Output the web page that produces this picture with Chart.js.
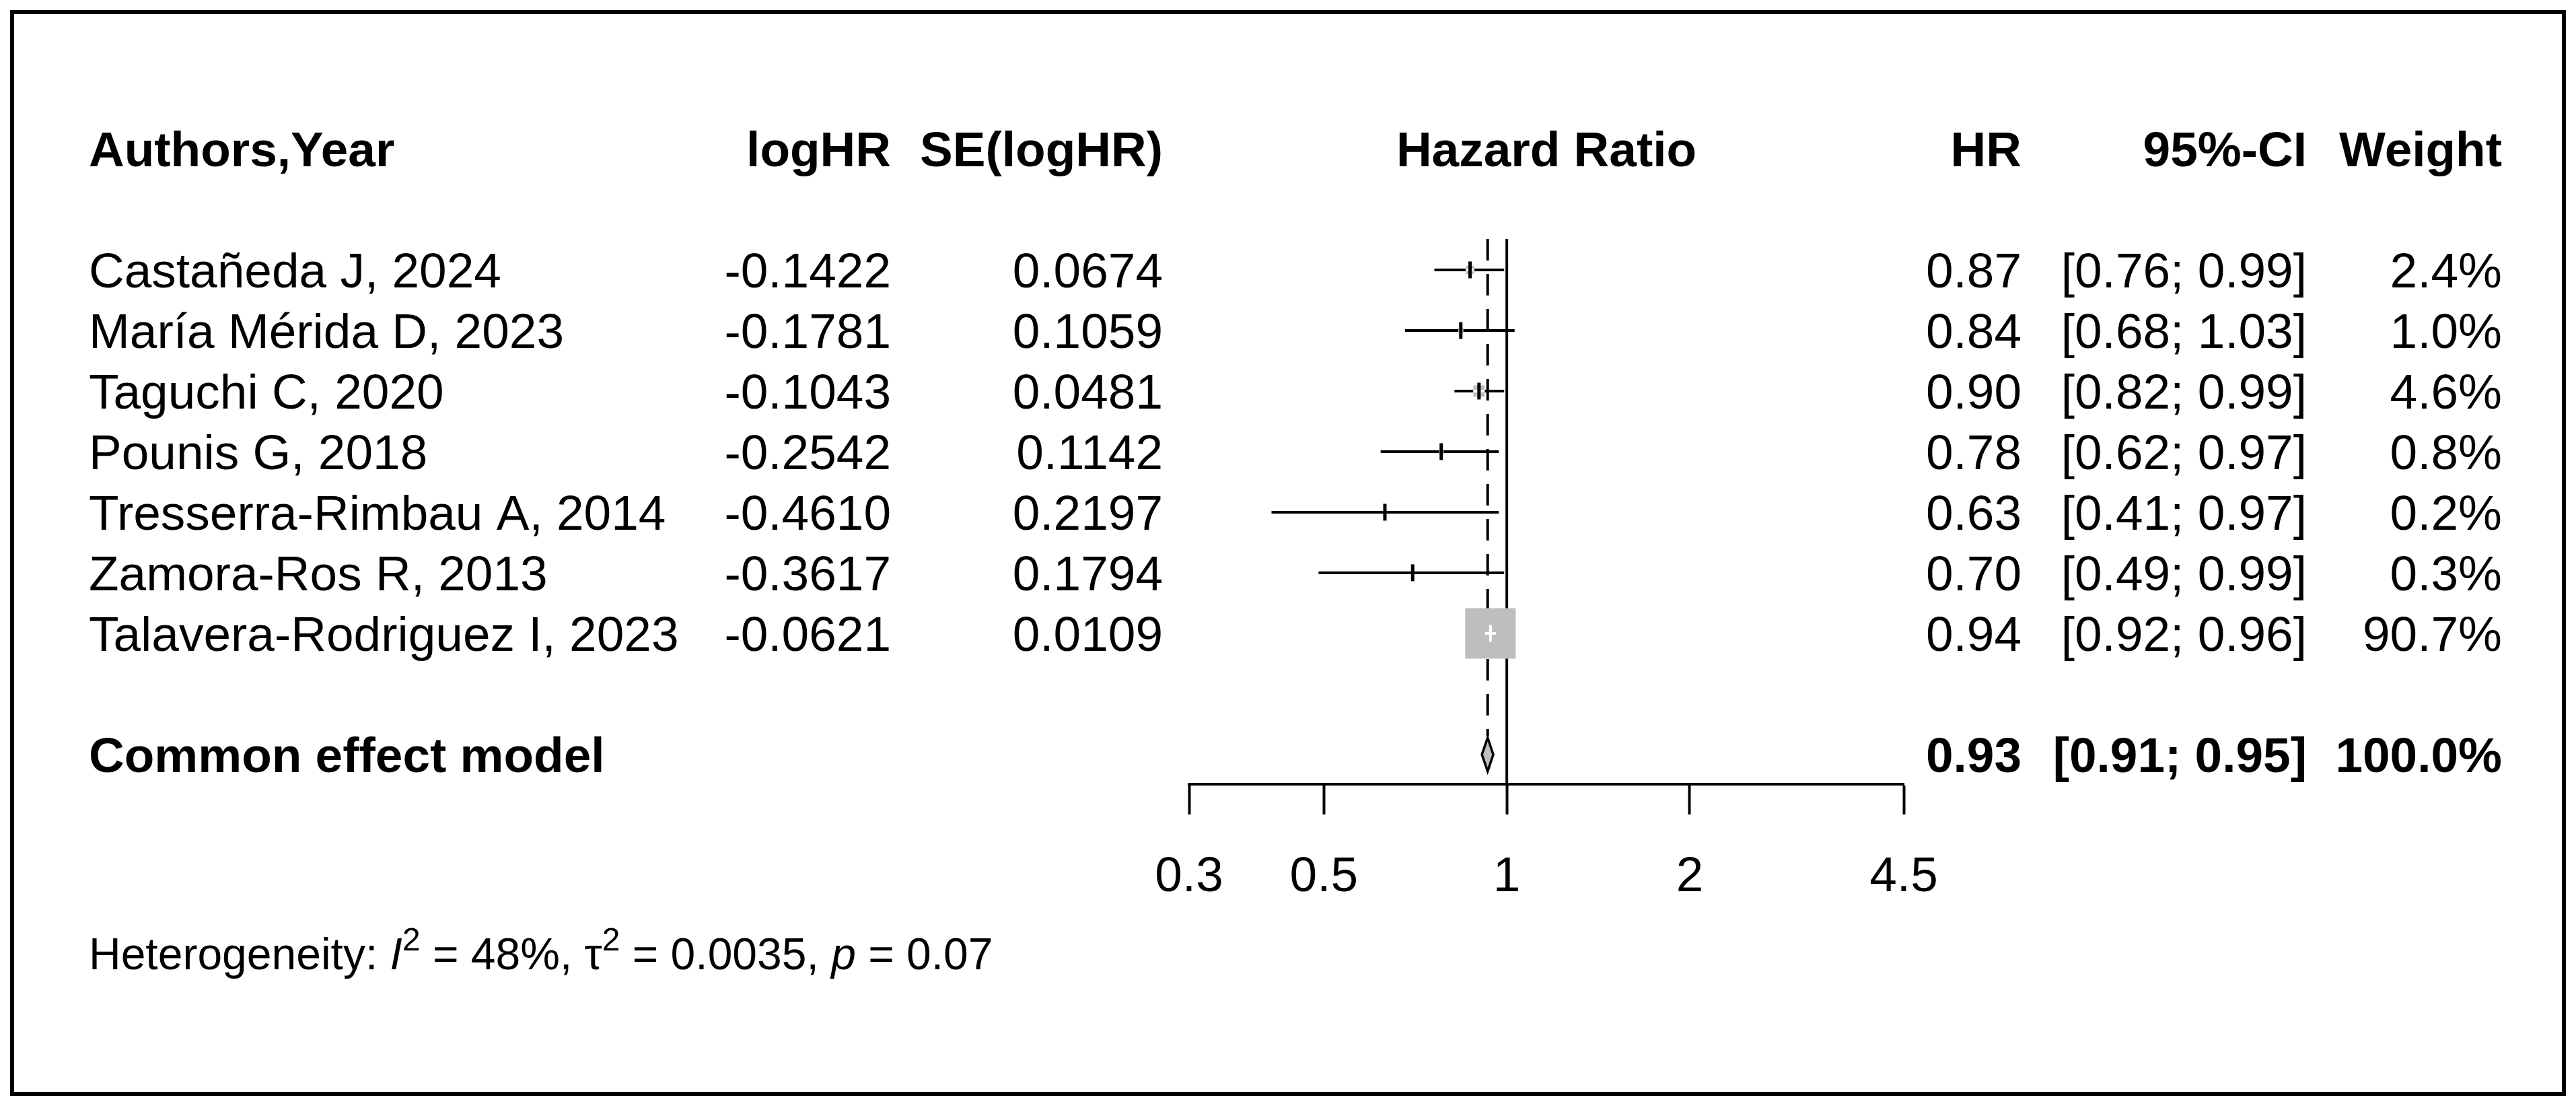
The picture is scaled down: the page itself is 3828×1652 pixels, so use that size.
<!DOCTYPE html>
<html>
<head>
<meta charset="utf-8">
<title>Forest plot – Hazard Ratio</title>
<script src="https://cdn.jsdelivr.net/npm/chart.js@4/dist/chart.umd.min.js"></script>
<style>
  html, body { margin: 0; padding: 0; background: #ffffff; }
  #wrap { width: 3828px; height: 1652px; position: relative; }
</style>
</head>
<body>
<div id="wrap"><canvas id="c"></canvas></div>
<script>
// ---------------- DATA ----------------
const studies = [
  'Castañeda J, 2024',
  'María Mérida D, 2023',
  'Taguchi C, 2020',
  'Pounis G, 2018',
  'Tresserra-Rimbau A, 2014',
  'Zamora-Ros R, 2013',
  'Talavera-Rodriguez I, 2023'
];
const logHR   = [-0.1422, -0.1781, -0.1043, -0.2542, -0.4610, -0.3617, -0.0621];
const seLogHR = [0.0674, 0.1059, 0.0481, 0.1142, 0.2197, 0.1794, 0.0109];
const hr      = [0.87, 0.84, 0.90, 0.78, 0.63, 0.70, 0.94];
const ciLow   = [0.76, 0.68, 0.82, 0.62, 0.41, 0.49, 0.92];
const ciHigh  = [0.99, 1.03, 0.99, 0.97, 0.97, 0.99, 0.96];
const weights = [2.4, 1.0, 4.6, 0.8, 0.2, 0.3, 90.7];

const pooledLabel  = 'Common effect model';
const pooledHR     = 0.93;
const pooledLow    = 0.91;
const pooledHigh   = 0.95;
const pooledWeight = 100.0;

const headers = ['Authors,Year', 'logHR', 'SE(logHR)', 'Hazard Ratio', 'HR', '95%-CI', 'Weight'];
const tickValues = [0.3, 0.5, 1, 2, 4.5];
const tickLabels = ['0.3', '0.5', '1', '2', '4.5'];
const hetI2 = '48%';
const hetTau2 = '0.0035';
const hetP = '0.07';

// ---------------- LAYOUT / STYLE ----------------
const FONT = '"Liberation Sans", Arial, Helvetica, sans-serif';
const FS = 73;            // main font size
const FS_HET = 66;        // heterogeneity line
const GRAY = '#bebebe';
const BOX_MAX = 75;       // side of the largest square (px)
const ROW_HEADER = -2, ROW_POOLED = 8, ROW_HET = 11.28;
const Y_MIN = -1, Y_MAX = 8.49;
const AXIS_H = 200;

const COL_STUDY_X = 132;
const COL_LOGHR_R = 1324;
const COL_SE_R = 1728;
const COL_HR_R = 3004;
const COL_CI_R = 3428;
const COL_W_R = 3718;

const maxW = Math.max(...weights);
const boxSide = weights.map(w => BOX_MAX * Math.sqrt(w / maxW));

function capOffset(size) { return size * 0.358; }

const forestPlugin = {
  id: 'forest',
  beforeDraw(chart) {
    const ctx = chart.ctx;
    ctx.save();
    ctx.fillStyle = '#ffffff';
    ctx.fillRect(0, 0, chart.width, chart.height);
    ctx.restore();
  },
  beforeDatasetsDraw(chart) {
    const ctx = chart.ctx, xs = chart.scales.x, ys = chart.scales.y;
    const top = ys.getPixelForValue(-0.51);
    ctx.save();
    ctx.strokeStyle = '#000';
    ctx.lineWidth = 4;
    // line of no effect
    const x1 = xs.getPixelForValue(1);
    ctx.beginPath();
    ctx.moveTo(x1, top);
    ctx.lineTo(x1, chart.chartArea.bottom);
    ctx.stroke();
    // common effect (dashed)
    const xp = xs.getPixelForValue(pooledHR);
    ctx.setLineDash([32, 20]);
    ctx.beginPath();
    ctx.moveTo(xp, top);
    ctx.lineTo(xp, ys.getPixelForValue(ROW_POOLED - 0.3));
    ctx.stroke();
    ctx.restore();
  },
  afterDatasetsDraw(chart) {
    const ctx = chart.ctx, xs = chart.scales.x, ys = chart.scales.y;
    ctx.save();
    hr.forEach((v, i) => {
      const cx = xs.getPixelForValue(v);
      const cy = ys.getPixelForValue(i);
      const half = boxSide[i] / 2;
      const tickH = 25;
      // CI part inside the square in white
      const lo = Math.max(xs.getPixelForValue(ciLow[i]), cx - half);
      const hi = Math.min(xs.getPixelForValue(ciHigh[i]), cx + half);
      if (half > 6) {
        ctx.strokeStyle = '#ffffff';
        ctx.lineWidth = 4;
        ctx.beginPath();
        ctx.moveTo(lo, cy); ctx.lineTo(hi, cy);
        ctx.stroke();
      }
      // estimate tick
      const inside = half * 2 > tickH + 4;
      ctx.strokeStyle = inside ? '#ffffff' : '#000000';
      ctx.lineWidth = inside ? 4 : 5;
      ctx.beginPath();
      ctx.moveTo(cx, cy - tickH / 2); ctx.lineTo(cx, cy + tickH / 2);
      ctx.stroke();
    });
    // pooled diamond
    const dy = ys.getPixelForValue(ROW_POOLED);
    const dl = xs.getPixelForValue(pooledLow), dh = xs.getPixelForValue(pooledHigh), dm = xs.getPixelForValue(pooledHR);
    ctx.beginPath();
    ctx.moveTo(dl, dy);
    ctx.lineTo(dm, dy - 25);
    ctx.lineTo(dh, dy);
    ctx.lineTo(dm, dy + 25);
    ctx.closePath();
    ctx.fillStyle = GRAY;
    ctx.fill();
    ctx.strokeStyle = '#000';
    ctx.lineWidth = 3.5;
    ctx.stroke();
    ctx.restore();
  },
  afterDraw(chart) {
    const ctx = chart.ctx, ys = chart.scales.y, ca = chart.chartArea;
    ctx.save();
    ctx.fillStyle = '#000';
    ctx.textBaseline = 'alphabetic';
    const bold = `bold ${FS}px ${FONT}`, plain = `${FS}px ${FONT}`;
    const put = (txt, x, row, align, font) => {
      ctx.font = font; ctx.textAlign = align;
      ctx.fillText(txt, x, ys.getPixelForValue(row) + capOffset(FS));
    };
    // headers
    put(headers[0], COL_STUDY_X, ROW_HEADER, 'left', bold);
    put(headers[1], COL_LOGHR_R, ROW_HEADER, 'right', bold);
    put(headers[2], COL_SE_R, ROW_HEADER, 'right', bold);
    put(headers[3], (ca.left + ca.right) / 2, ROW_HEADER, 'center', bold);
    put(headers[4], COL_HR_R, ROW_HEADER, 'right', bold);
    put(headers[5], COL_CI_R, ROW_HEADER, 'right', bold);
    put(headers[6], COL_W_R, ROW_HEADER, 'right', bold);
    // study rows
    studies.forEach((s, i) => {
      put(s, COL_STUDY_X, i, 'left', plain);
      put(logHR[i].toFixed(4), COL_LOGHR_R, i, 'right', plain);
      put(seLogHR[i].toFixed(4), COL_SE_R, i, 'right', plain);
      put(hr[i].toFixed(2), COL_HR_R, i, 'right', plain);
      put(`[${ciLow[i].toFixed(2)}; ${ciHigh[i].toFixed(2)}]`, COL_CI_R, i, 'right', plain);
      put(weights[i].toFixed(1) + '%', COL_W_R, i, 'right', plain);
    });
    // pooled row
    put(pooledLabel, COL_STUDY_X, ROW_POOLED, 'left', bold);
    put(pooledHR.toFixed(2), COL_HR_R, ROW_POOLED, 'right', bold);
    put(`[${pooledLow.toFixed(2)}; ${pooledHigh.toFixed(2)}]`, COL_CI_R, ROW_POOLED, 'right', bold);
    put(pooledWeight.toFixed(1) + '%', COL_W_R, ROW_POOLED, 'right', bold);
    // heterogeneity line
    const hy = ys.getPixelForValue(ROW_HET) + capOffset(FS_HET);
    const sup = Math.round(FS_HET * 0.72);
    const parts = [
      ['Heterogeneity: ', `${FS_HET}px ${FONT}`, 0],
      ['I', `italic ${FS_HET}px ${FONT}`, 0],
      ['2', `${sup}px ${FONT}`, -FS_HET * 0.42],
      [' = ' + hetI2 + ', ', `${FS_HET}px ${FONT}`, 0],
      ['\u03C4', `${FS_HET}px ${FONT}`, 0],
      ['2', `${sup}px ${FONT}`, -FS_HET * 0.42],
      [' = ' + hetTau2 + ', ', `${FS_HET}px ${FONT}`, 0],
      ['p', `italic ${FS_HET}px ${FONT}`, 0],
      [' = ' + hetP, `${FS_HET}px ${FONT}`, 0]
    ];
    let hx = COL_STUDY_X;
    ctx.textAlign = 'left';
    parts.forEach(([t, f, off]) => {
      ctx.font = f;
      ctx.fillText(t, hx, hy + off);
      hx += ctx.measureText(t).width;
    });
    // outer frame
    ctx.strokeStyle = '#000';
    ctx.lineWidth = 6;
    ctx.strokeRect(18, 18, chart.width - 36, 1607);
    ctx.restore();
  }
};

Chart.defaults.font.family = FONT;

new Chart(document.getElementById('c'), {
  type: 'scatter',
  data: {
    datasets: [
      {
        label: 'Study weight squares',
        data: hr.map((v, i) => ({ x: v, y: i })),
        pointStyle: 'rect',
        pointRadius: boxSide.map(s => s / Math.SQRT2),
        pointHoverRadius: boxSide.map(s => s / Math.SQRT2),
        backgroundColor: GRAY,
        borderWidth: 0,
        order: 1
      },
      ...studies.map((s, i) => ({
        label: s,
        data: [{ x: ciLow[i], y: i }, { x: ciHigh[i], y: i }],
        showLine: true,
        borderColor: '#000',
        borderWidth: 4,
        pointRadius: 0,
        order: 2
      }))
    ]
  },
  options: {
    responsive: true,
    maintainAspectRatio: false,
    devicePixelRatio: 1,
    animation: false,
    events: [],
    layout: { padding: { left: 1767, right: 999, top: 311, bottom: 1652 - 1165 - AXIS_H } },
    plugins: { legend: { display: false }, tooltip: { enabled: false }, title: { display: false } },
    scales: {
      x: {
        type: 'logarithmic',
        position: 'bottom',
        min: 0.3,
        max: 4.5,
        afterBuildTicks: (axis) => { axis.ticks = tickValues.map(v => ({ value: v })); },
        afterFit: (axis) => { axis.height = AXIS_H; },
        border: { display: true, color: '#000', width: 4 },
        grid: { display: true, drawOnChartArea: false, drawTicks: true, tickLength: 45, tickWidth: 4, tickColor: '#000' },
        ticks: {
          autoSkip: false, maxRotation: 0, minRotation: 0, padding: 50,
          color: '#000', font: { size: FS, family: FONT },
          callback: (value) => { const k = tickValues.indexOf(value); return k >= 0 ? tickLabels[k] : ''; }
        }
      },
      y: {
        type: 'linear',
        display: false,
        reverse: true,
        min: Y_MIN,
        max: Y_MAX
      }
    }
  },
  plugins: [forestPlugin]
});
</script>
</body>
</html>
